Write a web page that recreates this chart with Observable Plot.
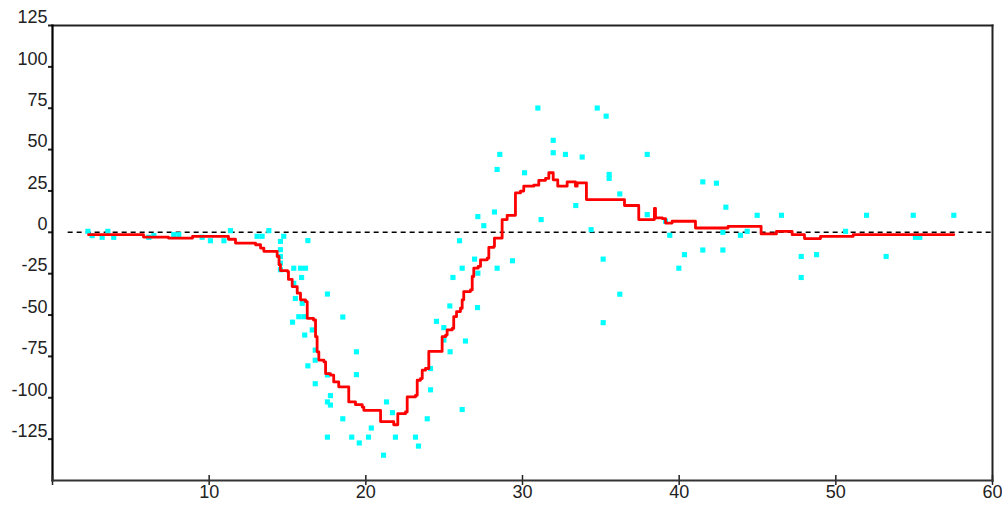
<!DOCTYPE html>
<html>
<head>
<meta charset="utf-8">
<script src="https://cdn.jsdelivr.net/npm/d3@7"></script>
<script src="https://cdn.jsdelivr.net/npm/@observablehq/plot@0.6"></script>
<style>
  html, body { margin: 0; padding: 0; background: #fff; }
  svg { display: block; }
</style>
</head>
<body>
<div id="chart"></div>
<script>
// ---- data ----
const xTicks = [0, 10, 20, 30, 40, 50, 60];
const xTickLabels = [10, 20, 30, 40, 50, 60];
const yTicks = [-125, -100, -75, -50, -25, 0, 25, 50, 75, 100, 125];
const xDomain = [0, 60];
const yDomain = [-150, 125];
const zeroLineStart = 1;
const zeroLineEnd = 60;

// red step curve: x positions and values
const stepX = [2.30, 5.81, 7.40, 8.94, 11.23, 11.68, 12.96, 13.28, 13.49, 14.34, 14.46, 14.55, 15.00, 15.06, 15.30, 15.62, 15.83, 16.15, 16.26, 16.66, 16.79, 16.89, 17.00, 17.32, 17.43, 17.74, 17.95, 18.27, 18.91, 19.34, 19.77, 19.87, 20.94, 21.78, 22.04, 22.53, 22.64, 23.17, 23.28, 23.49, 23.60, 23.81, 24.02, 24.87, 25.09, 25.19, 25.51, 25.61, 25.79, 26.04, 26.15, 26.25, 26.68, 26.79, 26.89, 27.17, 27.32, 27.75, 27.85, 28.17, 28.21, 28.70, 29.02, 29.55, 29.87, 30.08, 30.72, 31.04, 31.47, 31.68, 31.96, 32.25, 32.85, 33.38, 33.49, 34.08, 36.51, 37.42, 38.42, 38.49, 38.92, 39.13, 39.55, 41.04, 43.12, 45.23, 46.21, 47.21, 48.00, 49.02, 51.11, 57.53];
const stepY = [-1.4, -2.9, -3.5, -2.4, -4.2, -6.5, -7.5, -9.5, -11.5, -14.6, -19.6, -23.1, -23.7, -28.5, -32.8, -36.8, -40.8, -41.9, -52.0, -53.0, -63.1, -72.2, -77.2, -78.3, -85.4, -86.3, -90.4, -93.4, -102.5, -104.2, -105.6, -107.6, -114.4, -116.3, -109.6, -108.6, -99.5, -98.5, -89.4, -88.4, -83.3, -82.3, -72.0, -63.1, -62.1, -59.0, -58.1, -51.0, -47.9, -45.9, -40.8, -35.8, -34.8, -26.7, -21.7, -20.6, -16.6, -15.6, -9.1, -8.5, -3.5, 7.7, 10.3, 23.8, 24.9, 27.9, 28.5, 31.4, 32.6, 36.0, 31.7, 27.9, 30.5, 27.9, 29.9, 19.8, 16.2, 7.7, 14.4, 8.7, 8.3, 5.6, 6.7, 2.6, 3.6, -1.0, 0.6, -1.4, -3.8, -2.4, -1.4, -1.4];

// cyan scatter observations
const obsX = [2.26, 2.53, 3.17, 3.53, 3.91, 6.15, 6.47, 7.74, 8.06, 9.55, 10.08, 10.94, 11.36, 13.06, 13.38, 13.81, 14.55, 14.76, 14.55, 14.55, 14.55, 14.55, 16.30, 15.40, 15.83, 16.15, 15.90, 15.40, 15.50, 15.94, 17.55, 15.72, 16.04, 15.32, 18.53, 16.58, 16.10, 16.77, 16.77, 19.40, 16.30, 17.55, 19.40, 16.77, 17.74, 17.55, 17.74, 18.53, 21.32, 21.70, 20.35, 17.55, 19.10, 19.58, 20.17, 21.89, 23.17, 23.36, 21.13, 23.92, 24.13, 24.13, 24.51, 24.98, 24.98, 25.38, 25.36, 26.15, 26.36, 27.13, 26.15, 25.56, 27.15, 28.38, 26.94, 25.98, 29.36, 27.15, 27.53, 28.21, 28.38, 28.55, 30.13, 30.98, 31.19, 31.96, 31.96, 32.74, 33.81, 33.40, 34.38, 34.77, 35.34, 35.53, 35.53, 35.15, 35.15, 36.21, 36.21, 37.96, 37.96, 39.13, 39.40, 39.98, 40.34, 41.51, 42.38, 42.98, 41.51, 42.79, 42.79, 43.91, 44.34, 44.98, 46.53, 47.79, 47.79, 48.77, 50.62, 51.96, 53.21, 54.94, 55.08, 55.36, 57.53];
const obsY = [0.6, -2.0, -3.0, 0.6, -3.0, -3.0, -2.0, -1.4, -1.4, -3.0, -5.1, -5.1, 1.0, -2.4, -2.4, 1.0, -5.5, -2.4, -10.5, -14.6, -18.6, -22.6, -5.0, -21.7, -21.7, -21.7, -27.3, -30.8, -40.0, -42.9, -37.3, -51.0, -51.0, -54.3, -51.2, -59.0, -62.1, -71.2, -77.3, -72.2, -80.7, -86.2, -86.0, -91.5, -98.7, -102.5, -104.4, -112.7, -102.5, -109.0, -118.3, -123.8, -123.8, -127.3, -123.8, -123.8, -123.8, -129.2, -134.7, -112.7, -95.2, -82.3, -53.8, -57.6, -65.1, -72.2, -44.5, -107.1, -65.7, -45.5, -21.7, -27.3, -24.7, -21.7, -16.2, -5.1, -17.2, 9.5, 4.0, 12.3, 38.0, 47.1, 36.0, 75.1, 7.7, 55.6, 48.1, 47.1, 45.5, 16.2, 1.6, 75.1, 70.2, 35.0, 32.6, -16.2, -54.6, 23.2, -37.4, 47.1, 10.7, 6.7, -1.8, -21.7, -13.5, 30.5, 29.7, 15.2, -10.7, -10.7, 0.0, -1.8, 0.6, 10.3, 10.3, -14.6, -27.3, -13.5, 0.6, 10.3, -14.6, 10.3, -3.0, -3.0, 10.3];

// ---- tables ----
const steps = stepX.map((x, i) => ({x, y: stepY[i]}));
const obs = obsX.map((x, i) => ({x, y: obsY[i]}));

const font = "'Liberation Sans', Arial, sans-serif";
const ink = "#222";

const chart = Plot.plot({
  width: 1002,
  height: 506,
  marginLeft: 52,
  marginRight: 10,
  marginTop: 25,
  marginBottom: 26,
  style: {fontFamily: font, fontSize: "18px", color: ink, background: "#fff"},
  x: {domain: xDomain, axis: null, label: null},
  y: {domain: yDomain, axis: null, label: null},
  marks: [
    // zero reference line
    Plot.ruleY([0], {x1: zeroLineStart, x2: zeroLineEnd, stroke: "#000", strokeWidth: 1.5, strokeDasharray: "5,4"}),
    // scatter
    Plot.dot(obs, {x: "x", y: "y", symbol: "square", r: 2.9, fill: "#00ffff", stroke: "none"}),
    // red step line
    Plot.line(steps, {x: "x", y: "y", curve: "step-after", stroke: "#ff0000", strokeWidth: 2.8}),
    // frame: top and right
    Plot.frame({anchor: "top", stroke: ink, strokeWidth: 2}),
    Plot.frame({anchor: "right", stroke: ink, strokeWidth: 2}),
    // y axis ticks
    Plot.axisY({ticks: yTicks, tickSize: 4, tickFormat: () => "", label: null, stroke: ink, strokeWidth: 2}),
    Plot.frame({anchor: "left", stroke: "#000", strokeWidth: 2.2}),
    // x axis ticks (crossing)
    Plot.axisX({ticks: xTicks, tickSize: 10, dy: -5, tickFormat: () => "", label: null, stroke: ink, strokeWidth: 1.5}),
    Plot.frame({anchor: "bottom", stroke: "#333", strokeWidth: 2}),
    // tick labels
    Plot.text(yTicks, {y: d => d, text: d => String(d), frameAnchor: "left", textAnchor: "end", dx: -5, dy: -8, fill: ink, fontSize: 18}),
    Plot.text(xTickLabels, {x: d => d, text: d => String(d), frameAnchor: "bottom", dy: 17, fill: ink, fontSize: 18})
  ]
});
document.getElementById("chart").appendChild(chart);
</script>
</body>
</html>
